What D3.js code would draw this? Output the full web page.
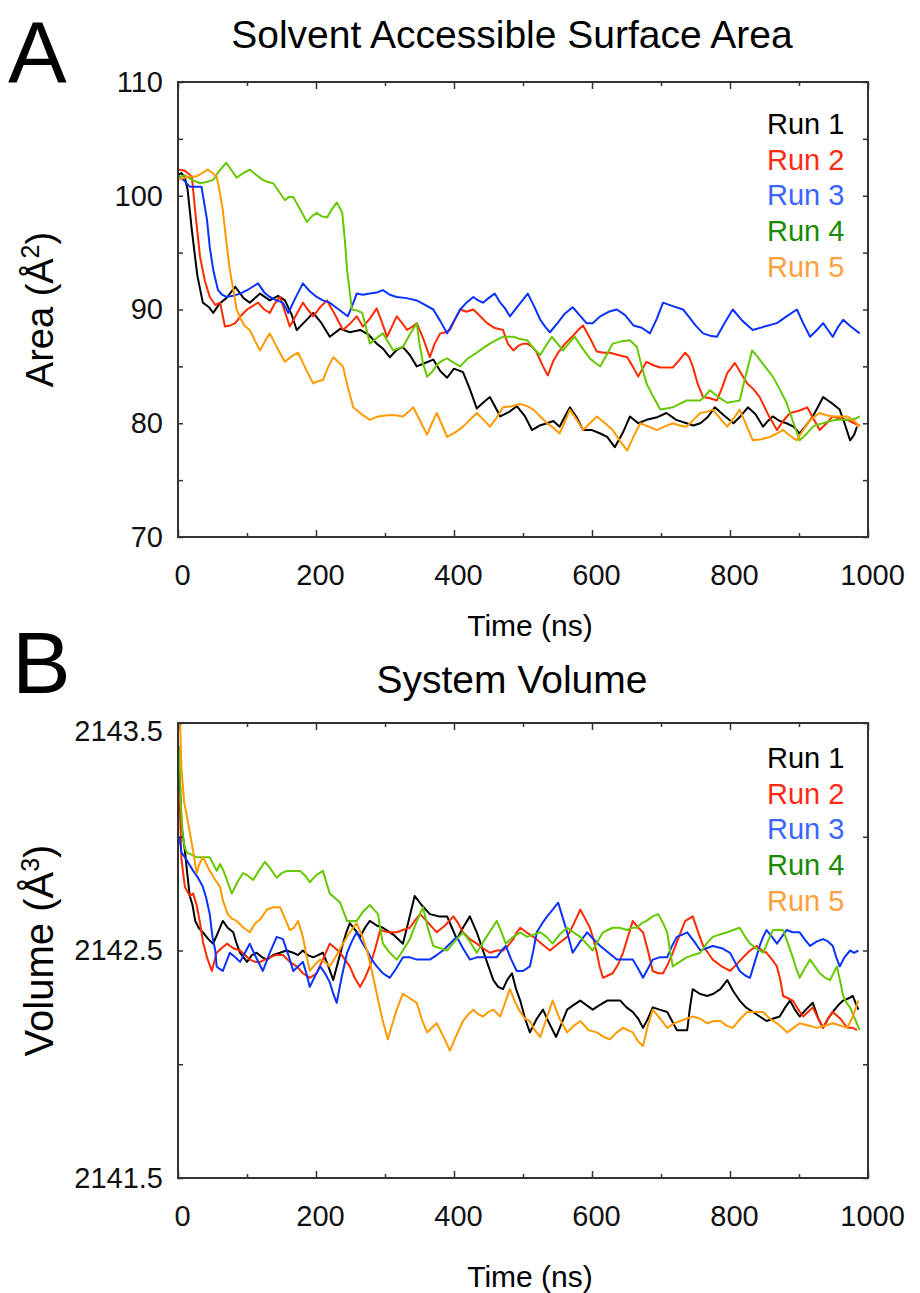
<!doctype html>
<html>
<head>
    <title>SASA and system volume</title>
    <meta charset="utf-8" />
    <script src="https://cdn.jsdelivr.net/npm/d3@7/dist/d3.min.js"></script>
    <style>
        body { margin: 0; background: #fff; }
        text { font-family: "Liberation Sans", Arial, Helvetica, sans-serif; }
    </style>
</head>
<body>
<div id="chart"></div>
<script>

    // ---- data ----
    var runNames = ['Run 1', 'Run 2', 'Run 3', 'Run 4', 'Run 5'];
    var timeMajor = [0, 200, 400, 600, 800, 1000];
    var timeMinor = [100, 300, 500, 700, 900];
    var sasaLabelTicks = [70, 80, 90, 100, 110];
    var sasaMinorTicks = [75, 85, 95, 105];
    var volLabelTicks = [2141.5, 2142.5, 2143.5];
    var volMinorTicks = [2142, 2143];

    // Solvent accessible surface area (A^2) vs time (ns)
    var sasaRun1 = [[0,101.8],[5,102],[10,101.6],[14,100.5],[20,97],[28,93],[36,90.6],[45,90.2],[51,89.7],[60,90.5],[70,91],[83,92],[95,91],[104,90.6],[119,91.4],[133,90.8],[145,91.2],[155,90.8],[165,89.5],[172,88.2],[185,89],[196,89.7],[208,88.8],[220,87.6],[235,88.3],[249,88],[264,88.2],[276,87.8],[288,87],[298,86.5],[307,85.8],[318,86.5],[326,86.7],[336,86],[346,85],[358,85.3],[370,85.6],[380,84.6],[390,84],[400,84.8],[413,84.5],[423,83],[433,81.3],[442,81.8],[452,82.3],[460,81.4],[467,80.6],[480,81],[491,81.5],[503,80.6],[513,79.4],[524,79.8],[535,80],[544,80.2],[553,79.7],[560,80.5],[568,81.4],[578,80.5],[587,79.4],[600,79.4],[612,79.1],[622,78.8],[633,77.9],[645,79.2],[655,80.6],[667,80],[679,80.3],[693,80.5],[708,80.9],[722,80.3],[737,80],[747,79.8],[757,80],[767,80.5],[778,81.4],[791,80.7],[805,80],[815,80.6],[826,81.4],[837,80.8],[848,79.7],[855,80.2],[862,80.6],[872,80.2],[882,80],[892,79.7],[901,79.1],[910,79.8],[920,80.6],[928,81.5],[935,82.3],[942,82],[949,81.7],[959,81.2],[966,80],[974,78.5],[980,79],[984,79.7]];
    var sasaRun2 = [[0,102.3],[10,102.2],[20,101.7],[26,98],[32,94.6],[39,92.5],[46,91.1],[54,90.4],[61,90.6],[68,88.5],[76,88.6],[83,88.8],[92,89.5],[100,90],[108,90.3],[116,90.6],[125,90],[133,89.7],[140,90.5],[148,91.1],[155,89.8],[162,88.5],[172,89.6],[181,90.6],[188,90],[196,89.4],[206,90.2],[216,90.8],[228,89.5],[239,88.2],[250,88.8],[259,89.4],[268,88.5],[278,89.2],[288,90.1],[296,88.8],[303,87.6],[310,88.5],[317,89.4],[325,88.8],[332,88.2],[340,88.5],[346,88.8],[355,87.5],[365,85.8],[372,87],[380,87.9],[388,88],[394,88.2],[402,89.2],[409,90],[418,89.8],[428,90],[438,89.4],[448,88.8],[458,88.4],[471,88.2],[478,87],[486,86.4],[493,86.8],[500,87],[506,87],[514,86.7],[520,86.2],[529,85],[536,84.2],[544,85.5],[551,86.2],[561,87],[571,87.6],[580,88.2],[587,88.6],[597,87.5],[607,86.3],[617,86.2],[626,86.2],[638,86],[651,85.8],[659,85],[667,84.1],[673,84.8],[679,85.4],[689,85.1],[699,84.9],[708,84.9],[717,84.9],[726,85.5],[735,86.2],[741,85.8],[746,85],[753,83.5],[761,82.3],[771,82.2],[781,82],[789,83.2],[796,84.4],[801,84.8],[807,85.3],[816,84.4],[825,83.5],[834,83],[843,82.3],[855,80.8],[868,79.4],[877,80.2],[887,80.9],[900,81.1],[912,81.4],[921,80.4],[930,79.4],[940,80],[949,80.6],[960,80.4],[970,80.3],[980,80],[988,79.8]];
    var sasaRun3 = [[0,101.6],[8,101.4],[17,100.8],[25,100.8],[34,100.8],[42,97.9],[46,95.5],[51,93.5],[58,91.7],[64,91.3],[70,91.1],[80,91.2],[90,91.4],[103,91.8],[116,92.3],[125,91.5],[133,91.1],[143,90.8],[152,90.6],[160,89.7],[170,91],[181,92.3],[191,91.6],[201,91.1],[210,90.8],[220,90.6],[233,90],[246,89.4],[253,90.4],[259,91.4],[268,91.3],[278,91.4],[288,91.5],[297,91.7],[307,91.3],[317,91.1],[331,91],[346,90.8],[358,90.4],[370,90],[380,89],[390,87.9],[400,89],[409,90],[418,90.6],[428,91.1],[435,90.8],[442,90.6],[450,91],[459,91.4],[467,90.6],[474,90.1],[481,89.4],[494,90.4],[507,91.4],[516,90.3],[525,89.1],[532,88.5],[539,88],[550,88.8],[560,89.6],[572,90.2],[582,89.5],[592,88.8],[601,88.8],[612,89.4],[624,89.8],[636,90],[648,89.5],[660,88.6],[672,88.4],[684,87.9],[694,89.2],[703,90.6],[717,90.3],[732,90],[740,89.4],[750,88.6],[761,87.9],[771,87.7],[781,87.6],[792,88.8],[804,90],[818,89],[833,88.2],[850,88.5],[868,88.8],[882,89.4],[897,90],[906,88.8],[916,87.6],[926,88.2],[935,88.8],[942,88.2],[949,87.6],[957,88.5],[964,89.1],[975,88.5],[988,87.9]];
    var sasaRun4 = [[0,101.6],[10,101.8],[20,101.4],[32,101.1],[41,101.2],[51,101.4],[60,102.2],[70,102.9],[78,102.2],[85,101.6],[95,102],[104,102.3],[114,101.8],[123,101.4],[130,101.2],[138,101.1],[146,100.4],[155,99.6],[161,99.9],[167,99.9],[177,98.8],[187,97.7],[194,98.2],[201,98.5],[208,98.2],[216,98.1],[223,98.8],[230,99.4],[235,98.9],[238,98.5],[242,96],[245,93.5],[249,91.5],[252,90],[260,89.9],[267,89.7],[273,88.3],[278,87],[288,87.5],[297,87.9],[305,87.1],[312,86.4],[320,86.6],[326,86.7],[336,87.8],[346,88.8],[350,87],[355,85.3],[361,84.1],[368,84.5],[376,85.2],[383,85.5],[390,85.7],[400,85.3],[409,85],[420,85.7],[433,86.2],[442,86.6],[452,87],[461,87.3],[471,87.6],[486,87.6],[496,87.4],[506,87.3],[515,86.6],[525,86],[533,86.8],[542,87.6],[550,87],[558,86.4],[566,87],[575,87.6],[586,86.6],[597,85.7],[605,85.3],[612,85],[621,86],[630,87],[643,87.2],[655,87.3],[665,86.7],[672,85],[679,83.5],[689,82.3],[699,81.2],[708,81.3],[717,81.4],[727,81.7],[737,82],[747,82],[757,82],[764,82.4],[771,82.9],[783,82.3],[796,81.8],[805,81.9],[814,82],[822,84],[832,86.4],[838,86],[843,85.6],[852,84.9],[862,84.1],[872,83],[882,81.8],[891,80.2],[901,78.5],[910,79],[920,79.7],[928,79.9],[935,80],[945,80.2],[955,80.3],[965,80.3],[974,80.3],[982,80.4],[988,80.6]];
    var sasaRun5 = [[0,101.4],[10,101.6],[18,101.7],[27,101.7],[35,102],[43,102.3],[50,102],[56,101.7],[60,100.5],[65,98.7],[70,96],[75,93.5],[80,91.8],[85,90],[90,89.3],[96,88.6],[104,88.2],[112,87.2],[119,86.4],[126,87.2],[133,87.9],[144,86.6],[155,85.4],[165,85.9],[174,86.2],[185,84.8],[196,83.5],[203,83.7],[210,83.8],[218,85],[225,85.8],[232,85.4],[239,85],[246,83.2],[254,81.4],[266,80.8],[278,80.3],[290,80.6],[303,80.7],[315,80.7],[326,80.6],[334,81],[341,81.4],[351,80.2],[361,79],[368,80],[375,80.9],[383,79.8],[390,78.8],[402,79.2],[413,79.7],[423,80.3],[433,80.9],[443,80.3],[452,79.7],[462,80.5],[471,81.4],[484,81.5],[496,81.7],[506,81.5],[515,81.2],[525,80.6],[535,80],[544,79.6],[553,79.1],[561,80.2],[568,81.2],[578,80.3],[587,79.4],[597,80],[607,80.6],[619,80],[630,79.4],[640,78.5],[651,77.6],[660,78.8],[670,80],[682,79.7],[694,79.4],[705,79.7],[717,80],[727,79.8],[737,79.7],[747,80.3],[757,80.9],[766,81],[775,81.2],[786,80.4],[796,79.7],[805,80.4],[814,81.2],[824,79.8],[833,78.5],[846,78.6],[858,78.8],[868,79.1],[877,79.4],[887,78.9],[897,78.5],[906,79.4],[916,80.3],[923,80.6],[930,80.9],[940,80.7],[949,80.6],[960,80.6],[970,80.6],[980,80.2],[988,79.7]];

    // System volume (A^3) vs time (ns)
    var volRun1 = [[2,2143.3],[5,2143.05],[10,2142.94],[13,2142.85],[17,2142.74],[21,2142.7],[25,2142.63],[30,2142.6],[36,2142.58],[44,2142.55],[51,2142.53],[58,2142.58],[65,2142.63],[72,2142.6],[80,2142.58],[85,2142.53],[90,2142.49],[100,2142.45],[107,2142.48],[114,2142.49],[122,2142.47],[129,2142.46],[138,2142.48],[148,2142.49],[157,2142.5],[167,2142.49],[174,2142.48],[181,2142.5],[188,2142.48],[196,2142.47],[203,2142.48],[210,2142.49],[218,2142.43],[225,2142.37],[232,2142.45],[239,2142.53],[244,2142.58],[249,2142.62],[257,2142.59],[264,2142.56],[271,2142.6],[278,2142.63],[288,2142.61],[297,2142.6],[312,2142.57],[326,2142.53],[335,2142.64],[343,2142.74],[353,2142.7],[365,2142.66],[378,2142.65],[390,2142.65],[397,2142.6],[404,2142.55],[413,2142.6],[423,2142.65],[433,2142.58],[442,2142.5],[450,2142.43],[457,2142.37],[464,2142.34],[471,2142.33],[477,2142.37],[484,2142.4],[490,2142.33],[496,2142.28],[503,2142.2],[510,2142.14],[520,2142.2],[529,2142.24],[538,2142.18],[548,2142.12],[556,2142.18],[564,2142.24],[573,2142.26],[583,2142.28],[592,2142.26],[601,2142.24],[611,2142.26],[622,2142.28],[631,2142.28],[641,2142.28],[650,2142.25],[659,2142.23],[667,2142.2],[674,2142.16],[681,2142.2],[688,2142.25],[698,2142.24],[709,2142.23],[716,2142.19],[723,2142.15],[730,2142.15],[738,2142.15],[742,2142.25],[746,2142.33],[756,2142.31],[767,2142.3],[776,2142.31],[786,2142.33],[791,2142.35],[796,2142.37],[805,2142.32],[814,2142.28],[823,2142.25],[833,2142.23],[843,2142.21],[853,2142.19],[862,2142.2],[872,2142.21],[880,2142.25],[887,2142.28],[894,2142.24],[901,2142.21],[910,2142.24],[920,2142.27],[928,2142.2],[935,2142.16],[942,2142.2],[949,2142.23],[957,2142.26],[964,2142.28],[972,2142.29],[978,2142.3],[986,2142.24]];
    var volRun2 = [[2,2143.2],[5,2142.9],[10,2142.78],[17,2142.74],[22,2142.75],[27,2142.7],[32,2142.62],[36,2142.54],[42,2142.47],[49,2142.41],[56,2142.49],[63,2142.51],[71,2142.53],[80,2142.51],[90,2142.5],[97,2142.48],[104,2142.46],[112,2142.45],[119,2142.45],[126,2142.46],[133,2142.47],[142,2142.48],[152,2142.48],[162,2142.45],[172,2142.43],[181,2142.4],[191,2142.38],[201,2142.4],[210,2142.46],[220,2142.53],[228,2142.51],[235,2142.49],[242,2142.46],[249,2142.43],[256,2142.38],[264,2142.34],[271,2142.38],[278,2142.43],[286,2142.51],[293,2142.59],[305,2142.58],[317,2142.58],[326,2142.59],[336,2142.6],[343,2142.63],[351,2142.66],[363,2142.62],[375,2142.58],[387,2142.61],[399,2142.65],[406,2142.62],[413,2142.58],[423,2142.55],[433,2142.53],[442,2142.51],[452,2142.49],[462,2142.5],[471,2142.5],[478,2142.52],[486,2142.55],[491,2142.58],[496,2142.6],[505,2142.58],[515,2142.56],[527,2142.53],[539,2142.5],[551,2142.53],[564,2142.56],[574,2142.62],[583,2142.68],[590,2142.64],[597,2142.6],[602,2142.55],[607,2142.49],[611,2142.43],[616,2142.38],[623,2142.39],[630,2142.4],[638,2142.44],[645,2142.49],[652,2142.56],[659,2142.63],[667,2142.6],[674,2142.58],[681,2142.5],[688,2142.41],[696,2142.4],[703,2142.4],[710,2142.44],[717,2142.49],[726,2142.56],[735,2142.63],[741,2142.64],[746,2142.65],[754,2142.58],[761,2142.52],[768,2142.49],[775,2142.46],[788,2142.43],[800,2142.41],[810,2142.44],[819,2142.47],[829,2142.5],[839,2142.52],[846,2142.5],[853,2142.49],[861,2142.46],[868,2142.43],[873,2142.37],[877,2142.3],[884,2142.29],[891,2142.28],[899,2142.24],[906,2142.21],[913,2142.23],[920,2142.25],[928,2142.2],[935,2142.16],[942,2142.2],[949,2142.23],[960,2142.2],[970,2142.16],[978,2142.16],[984,2142.15]];
    var volRun3 = [[2,2143.0],[5,2142.93],[10,2142.91],[16,2142.88],[22,2142.85],[29,2142.82],[36,2142.78],[41,2142.73],[46,2142.66],[50,2142.56],[54,2142.5],[56,2142.43],[60,2142.42],[65,2142.41],[70,2142.45],[75,2142.49],[83,2142.47],[90,2142.45],[97,2142.49],[104,2142.53],[113,2142.47],[123,2142.41],[133,2142.49],[143,2142.56],[152,2142.55],[160,2142.48],[167,2142.41],[174,2142.43],[181,2142.45],[186,2142.4],[191,2142.34],[199,2142.39],[206,2142.43],[213,2142.4],[220,2142.36],[225,2142.31],[230,2142.27],[237,2142.38],[245,2142.49],[252,2142.54],[259,2142.58],[266,2142.54],[274,2142.5],[281,2142.46],[288,2142.43],[297,2142.4],[307,2142.38],[316,2142.42],[326,2142.47],[336,2142.47],[346,2142.46],[355,2142.46],[365,2142.46],[375,2142.48],[384,2142.5],[394,2142.53],[404,2142.56],[413,2142.51],[423,2142.46],[433,2142.47],[442,2142.47],[452,2142.47],[462,2142.47],[469,2142.5],[475,2142.52],[483,2142.46],[491,2142.41],[500,2142.41],[510,2142.43],[515,2142.5],[520,2142.58],[528,2142.62],[535,2142.65],[543,2142.68],[551,2142.71],[558,2142.64],[564,2142.58],[572,2142.49],[583,2142.54],[593,2142.58],[602,2142.55],[612,2142.52],[624,2142.49],[636,2142.46],[648,2142.46],[659,2142.46],[667,2142.42],[674,2142.38],[681,2142.42],[688,2142.46],[698,2142.47],[709,2142.47],[716,2142.52],[723,2142.56],[731,2142.57],[738,2142.58],[748,2142.54],[757,2142.5],[766,2142.51],[775,2142.52],[788,2142.51],[800,2142.49],[807,2142.45],[814,2142.41],[822,2142.39],[829,2142.38],[836,2142.45],[843,2142.52],[848,2142.56],[853,2142.59],[861,2142.56],[868,2142.53],[875,2142.56],[882,2142.59],[891,2142.58],[901,2142.58],[908,2142.55],[916,2142.52],[926,2142.54],[935,2142.55],[942,2142.54],[949,2142.52],[954,2142.47],[959,2142.43],[966,2142.47],[974,2142.5],[980,2142.49],[986,2142.5]];
    var volRun4 = [[2,2143.4],[4,2143.15],[7,2143.0],[10,2142.95],[13,2142.93],[20,2142.92],[27,2142.91],[36,2142.91],[46,2142.91],[51,2142.88],[56,2142.85],[61,2142.88],[66,2142.85],[72,2142.8],[78,2142.75],[86,2142.8],[94,2142.84],[101,2142.83],[109,2142.81],[117,2142.85],[126,2142.89],[134,2142.86],[143,2142.82],[150,2142.84],[158,2142.85],[167,2142.85],[177,2142.85],[184,2142.83],[191,2142.8],[200,2142.83],[210,2142.85],[215,2142.8],[220,2142.75],[228,2142.73],[235,2142.71],[240,2142.67],[245,2142.63],[252,2142.63],[259,2142.63],[268,2142.67],[278,2142.7],[284,2142.68],[290,2142.66],[294,2142.58],[297,2142.53],[307,2142.49],[317,2142.46],[326,2142.5],[336,2142.55],[345,2142.62],[355,2142.69],[362,2142.6],[370,2142.52],[380,2142.51],[390,2142.5],[401,2142.54],[413,2142.58],[423,2142.54],[433,2142.49],[447,2142.56],[462,2142.63],[469,2142.58],[475,2142.53],[486,2142.56],[496,2142.58],[506,2142.56],[515,2142.57],[525,2142.58],[534,2142.56],[543,2142.53],[553,2142.57],[564,2142.6],[573,2142.58],[583,2142.56],[592,2142.53],[601,2142.5],[608,2142.54],[616,2142.58],[623,2142.59],[630,2142.6],[640,2142.6],[651,2142.59],[658,2142.6],[665,2142.6],[672,2142.62],[679,2142.63],[688,2142.65],[696,2142.66],[703,2142.62],[709,2142.58],[713,2142.5],[717,2142.43],[727,2142.45],[737,2142.47],[747,2142.48],[757,2142.49],[766,2142.53],[775,2142.56],[785,2142.57],[796,2142.58],[805,2142.59],[814,2142.6],[822,2142.56],[829,2142.53],[838,2142.51],[848,2142.49],[855,2142.54],[862,2142.59],[870,2142.59],[877,2142.59],[884,2142.53],[891,2142.47],[896,2142.42],[901,2142.38],[908,2142.42],[916,2142.46],[923,2142.43],[930,2142.4],[938,2142.38],[945,2142.37],[950,2142.4],[955,2142.43],[960,2142.36],[964,2142.3],[969,2142.27],[974,2142.25],[981,2142.2],[988,2142.15]];
    var volRun5 = [[2,2143.6],[5,2143.3],[9,2143.15],[13,2143.09],[17,2143.02],[20,2142.97],[24,2142.9],[27,2142.84],[31,2142.88],[36,2142.91],[41,2142.88],[46,2142.85],[54,2142.81],[61,2142.78],[65,2142.72],[72,2142.66],[78,2142.64],[85,2142.63],[95,2142.6],[104,2142.58],[112,2142.62],[120,2142.64],[129,2142.68],[138,2142.69],[148,2142.69],[155,2142.64],[162,2142.59],[168,2142.6],[174,2142.63],[181,2142.56],[186,2142.48],[191,2142.41],[199,2142.44],[206,2142.46],[213,2142.45],[220,2142.43],[230,2142.48],[239,2142.53],[249,2142.58],[259,2142.62],[266,2142.57],[274,2142.5],[281,2142.41],[288,2142.31],[296,2142.2],[304,2142.11],[310,2142.17],[317,2142.24],[322,2142.28],[326,2142.31],[336,2142.29],[346,2142.27],[353,2142.2],[361,2142.14],[368,2142.16],[375,2142.18],[385,2142.12],[394,2142.06],[404,2142.13],[413,2142.19],[421,2142.22],[428,2142.24],[435,2142.22],[442,2142.21],[450,2142.23],[457,2142.24],[467,2142.21],[474,2142.27],[481,2142.33],[489,2142.27],[496,2142.23],[503,2142.2],[510,2142.19],[517,2142.15],[525,2142.12],[534,2142.2],[543,2142.28],[553,2142.2],[564,2142.14],[574,2142.17],[583,2142.19],[595,2142.15],[607,2142.14],[617,2142.12],[626,2142.11],[636,2142.14],[645,2142.16],[652,2142.15],[659,2142.14],[667,2142.1],[674,2142.08],[681,2142.17],[688,2142.24],[699,2142.2],[709,2142.16],[719,2142.18],[728,2142.19],[737,2142.2],[746,2142.21],[757,2142.2],[767,2142.18],[777,2142.19],[786,2142.19],[795,2142.17],[804,2142.16],[815,2142.2],[825,2142.23],[836,2142.23],[848,2142.23],[858,2142.2],[868,2142.18],[876,2142.16],[883,2142.14],[892,2142.16],[901,2142.18],[913,2142.17],[926,2142.16],[938,2142.17],[949,2142.18],[960,2142.17],[970,2142.16],[978,2142.21],[986,2142.28]];

    // ---- look ----
    var lineColors = ['#000000', '#ff2a00', '#0a32ff', '#66c800', '#ff9a00'];
    var legendColors = ['#000000', '#ff2a14', '#3a66ff', '#1a8a00', '#ffa040'];
    var W = 920, H = 1293;
    var left = 178, right = 868;

    var svg = d3.select('#chart')
        .append('svg')
            .attr('width', W)
            .attr('height', H)
            .style('background', '#fff');

    var x = d3.scaleLinear().domain([0, 1000]).range([left, right]);

    function drawPanel(p) {
        var y = d3.scaleLinear().domain(p.yDomain).range([p.bottom, p.top]);
        var g = svg.append('g');

        g.append('clipPath').attr('id', p.id + '-clip')
            .append('rect')
                .attr('x', left).attr('y', p.top)
                .attr('width', right - left).attr('height', p.bottom - p.top);

        // data lines
        var line = d3.line()
            .x(function (d) { return x(d[0]); })
            .y(function (d) { return y(d[1]); });
        g.append('g')
            .attr('clip-path', 'url(#' + p.id + '-clip)')
            .selectAll('path')
            .data(p.series)
            .enter().append('path')
                .attr('d', line)
                .attr('fill', 'none')
                .attr('stroke', function (d, i) { return lineColors[i]; })
                .attr('stroke-width', 2)
                .attr('stroke-linejoin', 'round');

        // axes, ticks pointing inward on all four sides
        function styleAxis(sel) {
            sel.select('.domain').remove();
            sel.selectAll('line').attr('stroke', '#333').attr('stroke-width', 1.5);
            sel.selectAll('text')
                .attr('fill', '#111')
                .style('font-size', '29px')
                .style('font-family', '"Liberation Sans", Arial, sans-serif');
        }
        g.append('g').attr('transform', 'translate(0,' + p.bottom + ')')
            .call(d3.axisBottom(x).tickValues(timeMajor).tickSize(-7).tickPadding(27).tickFormat(d3.format('d')))
            .call(styleAxis)
            .selectAll('text').attr('dx', 4);
        g.append('g').attr('transform', 'translate(0,' + p.bottom + ')')
            .call(d3.axisBottom(x).tickValues(timeMinor).tickSize(-4).tickFormat(''))
            .call(styleAxis);
        g.append('g').attr('transform', 'translate(0,' + p.top + ')')
            .call(d3.axisTop(x).tickValues(timeMajor).tickSize(-7).tickFormat(''))
            .call(styleAxis);
        g.append('g').attr('transform', 'translate(0,' + p.top + ')')
            .call(d3.axisTop(x).tickValues(timeMinor).tickSize(-4).tickFormat(''))
            .call(styleAxis);

        var yl = g.append('g').attr('transform', 'translate(' + left + ',0)')
            .call(d3.axisLeft(y).tickValues(p.yLabels).tickSize(-5).tickPadding(15).tickFormat(p.fmt))
            .call(styleAxis);
        yl.selectAll('text').attr('dy', function (d) { return d === p.yDomain[1] ? p.topNudge : '0.32em'; });
        g.append('g').attr('transform', 'translate(' + left + ',0)')
            .call(d3.axisLeft(y).tickValues(p.yMinor).tickSize(-5).tickFormat(''))
            .call(styleAxis);
        g.append('g').attr('transform', 'translate(' + right + ',0)')
            .call(d3.axisRight(y).tickValues(p.yLabels.concat(p.yMinor)).tickSize(-5).tickFormat(''))
            .call(styleAxis);

        // frame
        g.append('rect')
            .attr('x', left).attr('y', p.top)
            .attr('width', right - left).attr('height', p.bottom - p.top)
            .attr('fill', 'none')
            .attr('stroke', '#333')
            .attr('stroke-width', 2);

        // legend
        g.selectAll('.legend')
            .data(runNames)
            .enter().append('text')
                .attr('x', 767)
                .attr('y', function (d, i) { return p.legendTop + i * 35.7; })
                .attr('fill', function (d, i) { return legendColors[i]; })
                .style('font-size', '29px')
                .text(function (d) { return d; });

        // panel letter, title, axis labels
        g.append('text')
            .attr('x', p.letterX).attr('y', p.letterY)
            .style('font-size', '88px')
            .text(p.letter);
        g.append('text')
            .attr('x', 512).attr('y', p.titleY)
            .attr('text-anchor', 'middle')
            .style('font-size', '39px')
            .text(p.title);
        g.append('text')
            .attr('x', 530).attr('y', p.xLabelY)
            .attr('text-anchor', 'middle')
            .style('font-size', '30px')
            .text('Time (ns)');
        var ylab = g.append('text')
            .attr('transform', 'translate(53,' + (p.top + p.bottom) / 2 + ') rotate(-90)')
            .attr('text-anchor', 'middle')
            .style('font-size', p.yLabelSize);
        ylab.append('tspan').text(p.yLabel + ' (Å');
        ylab.append('tspan').attr('dy', -14).style('font-size', '25px').text(p.yPower);
        ylab.append('tspan').attr('dy', 14).text(')');
    }

    drawPanel({
        id: 'sasa',
        top: 82, bottom: 537,
        yDomain: [70, 110],
        yLabels: sasaLabelTicks, yMinor: sasaMinorTicks,
        fmt: d3.format('d'), topNudge: '0.32em',
        series: [sasaRun1, sasaRun2, sasaRun3, sasaRun4, sasaRun5],
        legendTop: 134,
        letter: 'A', letterX: 8, letterY: 83,
        title: 'Solvent Accessible Surface Area', titleY: 48,
        xLabelY: 636,
        yLabel: 'Area', yPower: '2', yLabelSize: '38px'
    });

    drawPanel({
        id: 'vol',
        top: 723, bottom: 1178,
        yDomain: [2141.5, 2143.5],
        yLabels: volLabelTicks, yMinor: volMinorTicks,
        fmt: d3.format('.1f'), topNudge: '0.62em',
        series: [volRun1, volRun2, volRun3, volRun4, volRun5],
        legendTop: 768,
        letter: 'B', letterX: 12, letterY: 693,
        title: 'System Volume', titleY: 693,
        xLabelY: 1287,
        yLabel: 'Volume', yPower: '3', yLabelSize: '40px'
    });

</script>
</body>
</html>
